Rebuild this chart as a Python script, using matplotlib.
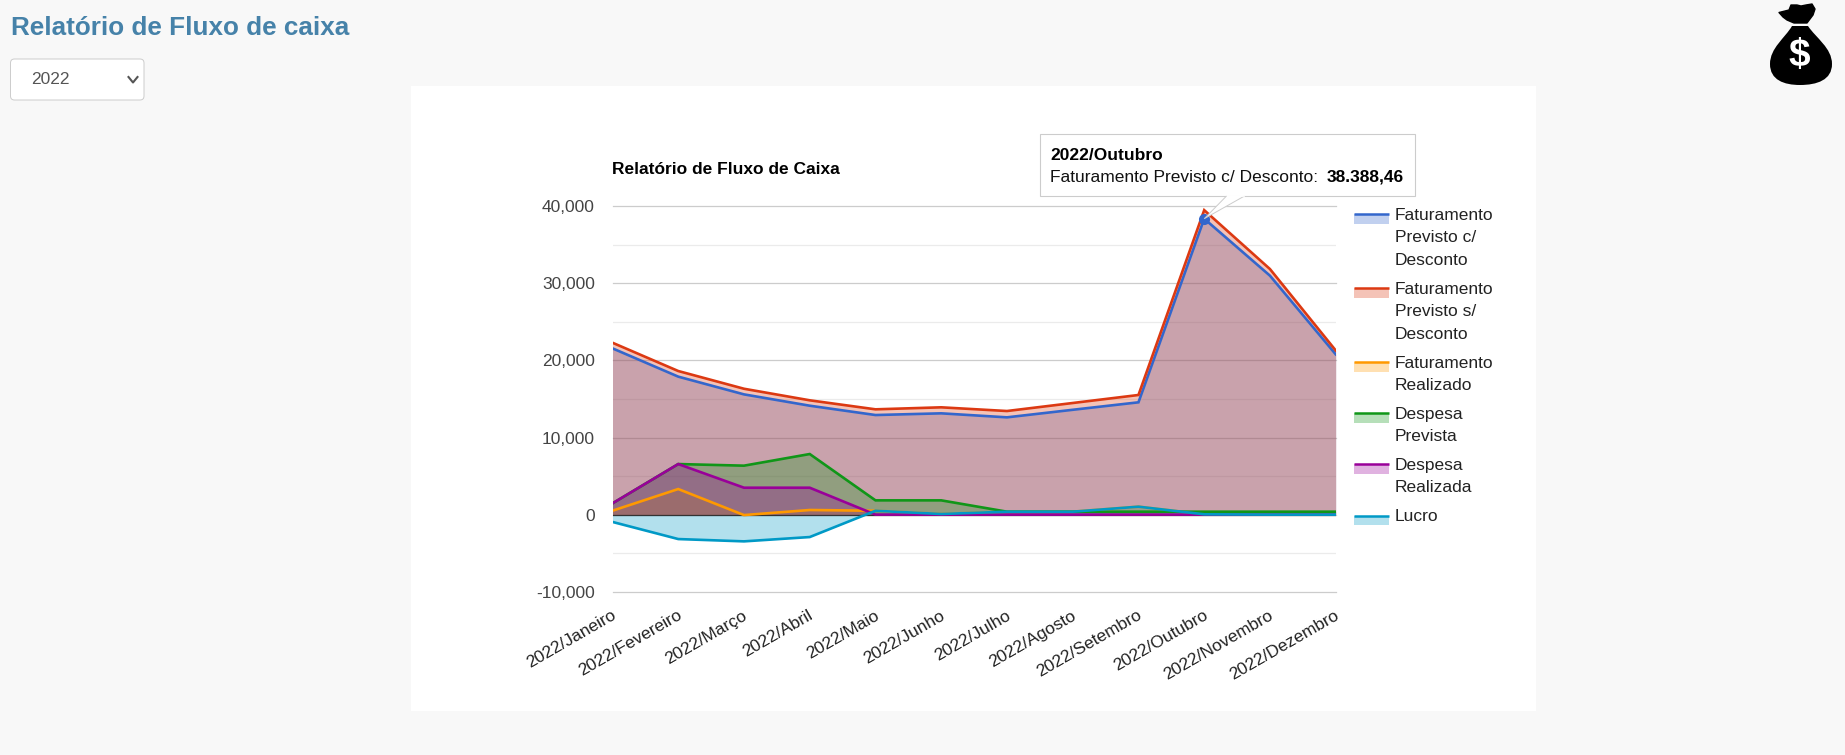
import matplotlib
matplotlib.use("Agg")
import matplotlib.pyplot as plt
from matplotlib.patches import FancyBboxPatch, PathPatch, Polygon, Rectangle
from matplotlib.path import Path

plt.rcParams["font.family"] = ["Liberation Sans", "DejaVu Sans"]

W, H = 1845, 755
PLOT_LEFT, PLOT_RIGHT = 612.5, 1335.7
PLOT_TOP, PLOT_BOTTOM = 206.3, 591.7
FONT = 12.5

meses = ["2022/Janeiro", "2022/Fevereiro", "2022/Março", "2022/Abril", "2022/Maio", "2022/Junho",
         "2022/Julho", "2022/Agosto", "2022/Setembro", "2022/Outubro", "2022/Novembro", "2022/Dezembro"]

fat_com_desconto = [21570, 17900, 15600, 14130, 12920, 13140, 12620, 13600, 14570, 38388.46, 31000, 20800]
fat_sem_desconto = [22300, 18630, 16330, 14830, 13660, 13920, 13440, 14480, 15520, 39500, 31860, 21300]
fat_realizado = [510, 3320, -60, 600, 500, 80, 380, 380, 1030, 40, 0, 0]
despesa_prevista = [1460, 6560, 6350, 7860, 1850, 1850, 380, 380, 380, 380, 380, 380]
despesa_realizada = [1460, 6560, 3490, 3490, 0, 0, 0, 0, 0, 0, 0, 0]
lucro = [-950, -3170, -3470, -2910, 500, 80, 380, 380, 1030, 40, 0, 0]

series = [
    (["Faturamento", "Previsto c/", "Desconto"], fat_com_desconto, "#3366cc"),
    (["Faturamento", "Previsto s/", "Desconto"], fat_sem_desconto, "#dc3912"),
    (["Faturamento", "Realizado"], fat_realizado, "#ff9900"),
    (["Despesa", "Prevista"], despesa_prevista, "#109618"),
    (["Despesa", "Realizada"], despesa_realizada, "#990099"),
    (["Lucro"], lucro, "#0099c6"),
]
legend_y = [214.3, 288.3, 362, 413, 464.3, 515.7]

fig = plt.figure(figsize=(W / 100, H / 100), dpi=100, facecolor="#f8f8f8")

# page elements live in an overlay using pixel coordinates
page = fig.add_axes([0, 0, 1, 1], zorder=0)
page.set_xlim(0, W)
page.set_ylim(H, 0)
page.axis("off")
page.add_patch(Rectangle((411, 86), 1125, 625, facecolor="white", edgecolor="none"))
page.text(11, 28, "Relatório de Fluxo de caixa", fontsize=18.8, fontweight="bold", color="#4682a9", va="center")
page.add_patch(FancyBboxPatch((10.5, 59), 133.5, 41, boxstyle="round,pad=0,rounding_size=4",
                              facecolor="white", edgecolor="#cccccc", lw=0.7))
page.text(31.5, 79, "2022", fontsize=FONT, color="#555555", va="center")
page.plot([128.5, 133, 137.5], [77, 82.5, 77], color="#555555", lw=1.5)

# money bag icon
bag = Path(
    [(1792, 26), (1785, 38), (1770, 48), (1770, 64), (1770, 80), (1784, 85), (1800, 85),
     (1817, 85), (1832, 80), (1832, 64), (1832, 48), (1816, 38), (1808, 26), (1792, 26)],
    [Path.MOVETO, Path.CURVE4, Path.CURVE4, Path.CURVE4, Path.CURVE4, Path.CURVE4, Path.CURVE4,
     Path.CURVE4, Path.CURVE4, Path.CURVE4, Path.CURVE4, Path.CURVE4, Path.CURVE4, Path.CLOSEPOLY],
)
page.add_patch(PathPatch(bag, facecolor="black", edgecolor="none"))
page.add_patch(Polygon([(1779, 12.5), (1785, 11), (1789, 10), (1791, 5), (1797, 5), (1801, 6), (1806, 5),
                        (1812, 4), (1815, 9), (1813, 15), (1807, 23), (1794, 23), (1787, 20), (1783, 17)],
                       facecolor="black", edgecolor="black", lw=1, joinstyle="round"))
page.text(1799, 56, "$", fontsize=28, fontweight="bold", color="white", ha="center", va="center")

page.text(612.5, 170, "Relatório de Fluxo de Caixa", fontsize=FONT, fontweight="bold", color="black", va="center")

# legend
for (lines, _, color), y in zip(series, legend_y):
    page.add_patch(Rectangle((1353.5, y), 35, 9.5, facecolor=color, alpha=0.3, edgecolor="none"))
    page.plot([1353.5, 1388.5], [y, y], color=color, lw=1.8, solid_capstyle="butt")
    for i, line in enumerate(lines):
        page.text(1395, y + 1 + i * 22.5, line, fontsize=FONT, color="#222222", va="center")

# chart
ax = fig.add_axes([PLOT_LEFT / W, 1 - PLOT_BOTTOM / H, (PLOT_RIGHT - PLOT_LEFT) / W, (PLOT_BOTTOM - PLOT_TOP) / H],
                  zorder=1)
ax.patch.set_alpha(0)
x = list(range(len(meses)))
for _, values, color in series:
    ax.fill_between(x, values, 0, color=color, alpha=0.3, lw=0, zorder=2)
ax.axhline(0, color="#333333", lw=0.9, zorder=3)
for _, values, color in series:
    ax.plot(x, values, color=color, lw=1.9, solid_joinstyle="miter", zorder=4)
ax.plot(x[9], fat_com_desconto[9], "o", color="#3366cc", ms=8, mew=0, zorder=5)

ax.set_xlim(0, 11)
ax.set_ylim(-10000, 40000)
ax.set_yticks(range(-10000, 40001, 10000))
ax.set_yticklabels([f"{v:,}" for v in range(-10000, 40001, 10000)], fontsize=FONT, color="#444444")
ax.set_yticks(range(-5000, 40000, 10000), minor=True)
ax.grid(True, which="major", axis="y", color="#cccccc", lw=0.9, clip_on=False)
ax.grid(True, which="minor", axis="y", color="#ebebeb", lw=0.9)
ax.set_axisbelow(True)
ax.set_xticks(x)
ax.set_xticklabels([])
# month labels hang off the bottom gridline, offset by hand to sit like the browser's
for pos, mes in zip(x, meses):
    ax.annotate(mes, xy=(pos, -10000), xytext=(-1.5, -16), textcoords="offset pixels", annotation_clip=False,
                fontsize=FONT, color="#222222", rotation=30, ha="right", va="top", rotation_mode="anchor")
ax.tick_params(axis="both", which="both", length=0)
ax.tick_params(axis="y", pad=12.6)
for spine in ax.spines.values():
    spine.set_visible(False)

# tooltip, on top of everything
top = fig.add_axes([0, 0, 1, 1], zorder=2)
top.set_xlim(0, W)
top.set_ylim(H, 0)
top.axis("off")
tip_x = PLOT_LEFT + 9 * (PLOT_RIGHT - PLOT_LEFT) / 11
tip_y = PLOT_TOP + (40000 - fat_com_desconto[9]) / 50000 * (PLOT_BOTTOM - PLOT_TOP)
top.add_patch(Rectangle((1039.5, 134), 375, 62, facecolor="white", edgecolor="#cccccc", lw=0.8))
top.add_patch(Polygon([(1226.5, 196), (tip_x, tip_y), (1244.5, 196)], closed=False,
                      facecolor="white", edgecolor="#cccccc", lw=0.7))
top.plot([1227.5, 1243.5], [196, 196], color="white", lw=1.2)
top.text(1050, 155, "2022/Outubro", fontsize=FONT, fontweight="bold", color="black", va="center")
label = top.text(1050, 177, "Faturamento Previsto c/ Desconto: ", fontsize=FONT, color="#111111", va="center")
top.annotate("38.388,46", xy=(1, 0), xycoords=label, xytext=(2.4, 0), textcoords="offset points",
             fontsize=FONT, fontweight="bold", color="black", va="bottom")

fig.savefig("out.png", dpi=100, facecolor=fig.get_facecolor())
